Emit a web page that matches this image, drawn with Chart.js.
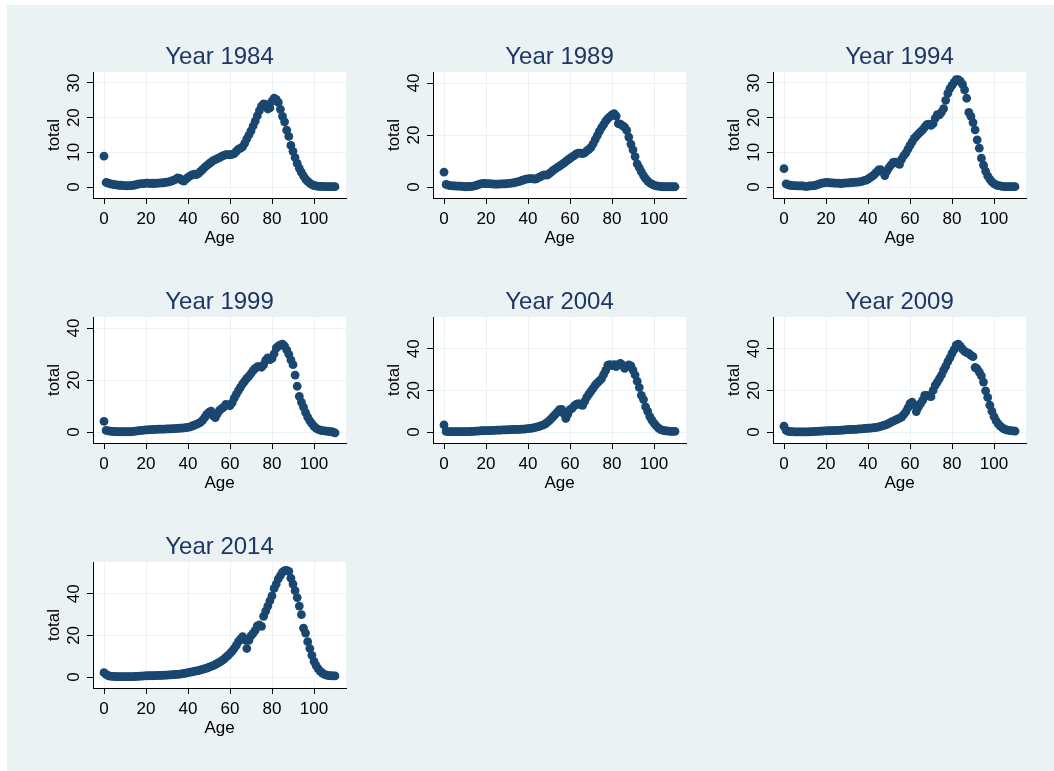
<!DOCTYPE html>
<html><head><meta charset="utf-8">
<script src="https://cdn.jsdelivr.net/npm/chart.js@4"></script>
<style>
html,body{margin:0;padding:0;background:#fff;width:1054px;height:771px;overflow:hidden;}
#bg{position:absolute;left:7px;top:5px;width:1047px;height:766px;background:#EAF2F3;}
.panel{position:absolute;width:340px;height:245px;}
.panel canvas{display:block;}
</style></head><body>
<div id="bg"></div>
<div class="panel" style="left:13px;top:17px"><canvas id="c0" width="340" height="245"></canvas></div>
<div class="panel" style="left:353px;top:17px"><canvas id="c1" width="340" height="245"></canvas></div>
<div class="panel" style="left:693px;top:17px"><canvas id="c2" width="340" height="245"></canvas></div>
<div class="panel" style="left:13px;top:262px"><canvas id="c3" width="340" height="245"></canvas></div>
<div class="panel" style="left:353px;top:262px"><canvas id="c4" width="340" height="245"></canvas></div>
<div class="panel" style="left:693px;top:262px"><canvas id="c5" width="340" height="245"></canvas></div>
<div class="panel" style="left:13px;top:507px"><canvas id="c6" width="340" height="245"></canvas></div>
<script>
// ---------- data ----------
const ages = [0,1,2,3,4,5,6,7,8,9,10,11,12,13,14,15,16,17,18,19,20,21,22,23,24,25,26,27,28,29,
30,31,32,33,34,35,36,37,38,39,40,41,42,43,44,45,46,47,48,49,50,51,52,53,54,55,56,57,58,59,
60,61,62,63,64,65,66,67,68,69,70,71,72,73,74,75,76,77,78,79,80,81,82,83,84,85,86,87,88,89,
90,91,92,93,94,95,96,97,98,99,100,101,102,103,104,105,106,107,108,109,110];

const years = ["Year 1984","Year 1989","Year 1994","Year 1999","Year 2004","Year 2009","Year 2014"];

const total1984 = [8.9,1.3,1.1,0.9,0.8,0.7,0.6,0.5,0.5,0.4,
0.4,0.3,0.4,0.4,0.5,0.6,0.8,0.9,1.0,1.0,
1.1,1.1,1.0,1.1,1.0,1.1,1.1,1.2,1.2,1.3,
1.4,1.5,1.7,1.9,2.2,2.6,2.5,2.0,1.7,2.3,
2.8,3.2,3.5,3.7,3.6,3.9,4.5,5.1,5.7,6.2,
6.7,7.2,7.6,7.9,8.2,8.5,8.8,9.1,9.3,9.3,
9.3,9.4,9.6,10.3,10.9,11.2,11.6,12.6,13.9,15.0,
16.2,17.6,19.0,20.5,22.0,23.3,24.0,23.8,22.5,22.8,
24.8,25.6,25.3,24.4,22.4,20.4,18.8,16.4,14.6,12.0,
10.3,8.5,6.8,5.4,4.2,3.2,2.3,1.6,1.1,0.7,
0.4,0.3,0.2,0.2,0.2,0.1,0.1,0.1,0.1,0.1,0.1];

const total1989 = [5.7,1.0,0.7,0.5,0.4,0.4,0.3,0.3,0.3,0.2,
0.1,0.1,0.2,0.2,0.3,0.5,0.8,1.1,1.3,1.4,
1.3,1.3,1.2,1.2,1.1,1.1,1.1,1.2,1.2,1.2,
1.3,1.4,1.5,1.6,1.8,2.0,2.2,2.5,2.7,3.0,
3.1,3.2,3.2,3.0,3.1,3.6,4.0,4.5,4.7,4.6,
5.0,5.7,6.4,7.0,7.5,8.0,8.6,9.2,9.8,10.4,
11.0,11.6,12.1,12.7,13.0,13.0,12.8,13.1,13.9,14.5,
15.2,16.6,18.2,19.8,21.4,22.8,24.0,25.3,26.3,27.1,
27.7,28.2,27.3,24.4,24.2,23.6,23.0,21.8,19.2,16.5,
14.3,11.7,8.9,7.4,5.8,4.4,3.2,2.3,1.6,1.1,
0.7,0.4,0.3,0.2,0.1,0.1,0.1,0.1,0.1,0.1,0.1];

const total1994 = [5.3,0.9,0.6,0.5,0.4,0.4,0.3,0.3,0.3,0.3,
0.2,0.2,0.3,0.3,0.4,0.5,0.7,0.9,1.1,1.2,
1.3,1.3,1.2,1.2,1.1,1.1,1.1,1.0,1.1,1.1,
1.2,1.2,1.3,1.3,1.4,1.4,1.5,1.6,1.8,2.0,
2.3,2.7,3.1,3.6,4.2,4.9,5.0,4.4,3.3,4.6,
5.6,6.4,7.1,7.2,6.9,6.5,8.0,9.0,9.8,10.9,
12.0,13.0,14.0,14.7,15.3,15.9,16.5,17.3,18.0,18.1,
17.8,18.3,19.8,20.9,20.8,21.6,22.6,25.0,27.0,28.4,
29.3,30.2,31.0,31.0,30.5,29.6,28.0,25.6,21.5,20.4,
18.6,16.5,13.6,11.2,8.3,6.3,4.6,3.2,2.3,1.5,
1.0,0.6,0.4,0.3,0.2,0.1,0.1,0.1,0.1,0.1,0.1];

const total1999 = [4.1,0.6,0.4,0.3,0.2,0.2,0.1,0.1,0.1,0.1,
0.1,0.1,0.1,0.1,0.2,0.3,0.4,0.5,0.6,0.7,
0.8,0.8,0.9,0.9,1.0,1.0,1.1,1.1,1.1,1.1,
1.2,1.2,1.2,1.3,1.3,1.4,1.5,1.5,1.6,1.7,
1.8,2.0,2.3,2.6,2.9,3.3,3.8,4.6,5.6,6.9,
7.6,8.0,6.2,5.5,7.0,8.3,9.0,9.6,10.6,10.4,
10.1,11.2,13.0,14.5,15.9,17.2,18.5,19.6,20.6,21.5,
22.5,23.6,24.5,25.1,25.1,24.9,25.8,27.6,28.5,27.8,
28.3,30.1,32.3,33.0,33.5,33.8,33.0,31.6,29.9,27.7,
25.9,21.9,17.6,13.7,11.5,9.6,7.5,5.7,4.3,3.2,
2.2,1.5,1.0,0.7,0.5,0.4,0.3,0.2,0.1,0.0,-0.3];

const total2004 = [3.4,0.3,0.2,0.2,0.2,0.2,0.2,0.2,0.2,0.2,
0.2,0.2,0.2,0.3,0.3,0.4,0.4,0.5,0.6,0.6,
0.7,0.7,0.7,0.8,0.8,0.9,0.9,0.9,1.0,1.0,
1.0,1.1,1.1,1.2,1.2,1.3,1.3,1.4,1.4,1.5,
1.6,1.7,1.9,2.1,2.3,2.6,2.9,3.3,3.8,4.5,
5.3,6.3,7.4,8.5,9.6,10.8,10.9,9.0,6.5,8.6,
10.8,11.4,12.6,13.3,13.6,13.1,12.8,14.7,16.8,18.2,
19.6,21.0,22.5,23.6,24.6,25.6,27.6,29.6,32.1,32.4,
31.9,32.4,31.4,32.4,33.0,32.1,30.6,31.6,32.2,31.8,
29.8,27.4,24.4,21.4,17.6,15.6,12.1,9.9,7.4,5.7,
4.3,3.0,2.0,1.3,0.9,0.6,0.5,0.4,0.3,0.3,0.3];

const total2009 = [2.8,0.8,0.3,0.2,0.2,0.1,0.1,0.1,0.1,0.1,
0.1,0.1,0.1,0.2,0.2,0.3,0.3,0.4,0.4,0.5,
0.5,0.6,0.6,0.7,0.7,0.8,0.8,0.9,0.9,1.0,
1.1,1.1,1.2,1.3,1.3,1.4,1.5,1.5,1.6,1.7,
1.8,1.9,2.0,2.1,2.2,2.4,2.7,3.0,3.3,3.7,
4.2,4.7,5.2,5.7,6.2,6.7,7.2,8.4,9.7,11.6,
13.6,14.4,13.0,9.8,12.0,13.6,15.2,17.6,17.6,17.2,
17.0,20.0,22.4,24.0,25.7,27.4,29.8,31.6,33.8,35.6,
37.8,39.6,41.8,42.2,41.2,39.8,38.8,38.2,37.8,36.8,
36.2,31.0,30.4,28.8,27.0,24.0,19.8,16.6,12.9,10.0,
7.4,5.4,3.9,2.8,2.0,1.4,1.0,0.8,0.6,0.5,0.4];

const total2014 = [2.1,1.3,0.6,0.4,0.3,0.3,0.2,0.2,0.2,0.2,
0.2,0.2,0.2,0.2,0.2,0.3,0.3,0.4,0.4,0.5,
0.5,0.6,0.6,0.6,0.7,0.7,0.8,0.8,0.8,0.9,
0.9,1.0,1.0,1.1,1.2,1.3,1.4,1.5,1.7,1.9,
2.1,2.3,2.5,2.7,2.9,3.1,3.4,3.7,4.0,4.3,
4.7,5.1,5.5,6.0,6.5,7.1,7.8,8.5,9.4,10.3,
11.3,12.4,13.7,15.2,17.0,18.2,19.4,17.8,13.7,17.6,
19.8,21.0,22.4,24.6,25.0,24.3,29.2,31.7,34.1,36.6,
39.0,42.6,44.7,47.2,48.8,50.4,51.1,51.3,50.8,47.5,
44.7,41.5,38.2,34.1,30.0,23.5,21.1,17.0,13.7,10.4,
7.5,5.5,3.9,2.7,1.9,1.3,0.9,0.7,0.6,0.5,0.5];

const xTicks = [0,20,40,60,80,100];
const yTicks30 = [0,10,20,30];
const yTicks40 = [0,20,40];
const yTop30 = 30, yTop40 = 40, yTop50 = 50;

// ---------- drawing ----------
Chart.defaults.font.family = '"Liberation Sans", Arial, Helvetica, sans-serif';
const MARK = '#1a476f';
const TITLE = '#1e3664';
const GRID = '#EAF2F3';

const plotBg = {
  id: 'plotBg',
  beforeDraw(chart) {
    const {ctx, chartArea: a} = chart;
    ctx.save();
    ctx.fillStyle = '#ffffff';
    ctx.fillRect(a.left, a.top, a.right - a.left, a.bottom - a.top);
    ctx.restore();
  }
};
const yTickLabels = {
  id: 'yTickLabels',
  afterDraw(chart) {
    const s = chart.scales.y, ctx = chart.ctx;
    ctx.save();
    ctx.font = '17px "Liberation Sans", Arial, sans-serif';
    ctx.fillStyle = '#000';
    ctx.textAlign = 'center';
    ctx.textBaseline = 'alphabetic';
    s.ticks.forEach(t => {
      const py = s.getPixelForValue(t.value);
      ctx.save();
      ctx.translate(chart.chartArea.left - 14.5, py);
      ctx.rotate(-Math.PI / 2);
      ctx.fillText(String(t.value), 0, 0);
      ctx.restore();
    });
    ctx.restore();
  }
};

function makePanel(id, title, values, yTop, yTickList) {
  const innerPx = 104, edgePx = 11;
  const yPad = yTop * edgePx / innerPx;
  const xPad = 110 * edgePx / 231;
  new Chart(document.getElementById(id), {
    type: 'scatter',
    data: {
      datasets: [{
        data: ages.map((a, i) => ({x: a, y: values[i]})),
        backgroundColor: MARK,
        borderColor: MARK,
        pointRadius: 4.4,
        pointBorderWidth: 0,
        pointHoverRadius: 4.4
      }]
    },
    options: {
      responsive: false,
      animation: false,
      events: [],
      layout: {padding: {left: 0, right: 7, top: 0, bottom: 0}},
      plugins: {
        legend: {display: false},
        tooltip: {enabled: false},
        title: {
          display: true, text: title, color: TITLE, fullSize: false, align: 'center',
          font: {size: 24, weight: 'normal'},
          padding: {top: 25.8, bottom: 0.4}
        }
      },
      scales: {
        x: {
          type: 'linear', position: 'bottom',
          min: -xPad, max: 110 + xPad,
          afterBuildTicks: s => { s.ticks = xTicks.map(v => ({value: v})); },
          afterFit: s => { s.height = 64; },
          grid: {color: GRID, lineWidth: 1, tickLength: 6, tickColor: '#000', tickWidth: 1},
          border: {display: true, color: '#000', width: 1},
          ticks: {color: '#000', font: {size: 17}, padding: 5, maxRotation: 0, autoSkip: false},
          title: {display: true, text: 'Age', color: '#000', font: {size: 17}, padding: {top: 0, bottom: 13}}
        },
        y: {
          type: 'linear', position: 'left',
          min: -yPad, max: yTop + yPad,
          afterBuildTicks: s => { s.ticks = yTickList.map(v => ({value: v})); },
          afterFit: s => { s.width = 80; },
          grid: {color: GRID, lineWidth: 1, tickLength: 6, tickColor: '#000', tickWidth: 1},
          border: {display: true, color: '#000', width: 1},
          ticks: {display: false},
          title: {display: true, text: 'total', color: '#000', font: {size: 17}, padding: {top: 31, bottom: 0}}
        }
      }
    },
    plugins: [plotBg, yTickLabels]
  });
}

makePanel('c0', years[0], total1984, yTop30, yTicks30);
makePanel('c1', years[1], total1989, yTop40, yTicks40);
makePanel('c2', years[2], total1994, yTop30, yTicks30);
makePanel('c3', years[3], total1999, yTop40, yTicks40);
makePanel('c4', years[4], total2004, yTop50, yTicks40);
makePanel('c5', years[5], total2009, yTop50, yTicks40);
makePanel('c6', years[6], total2014, yTop50, yTicks40);
</script>
</body></html>
